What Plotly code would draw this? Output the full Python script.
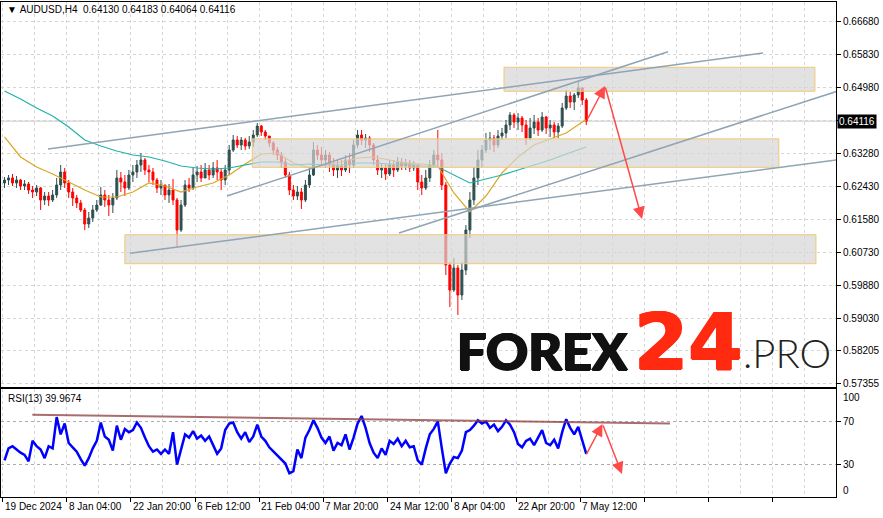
import plotly.graph_objects as go

# ---------------- data ----------------
BARS_PER_CANDLE = 4          # each candle below summarises 4 H4 bars
first_open = 0.62521
closes = [
    0.62598, 0.62650, 0.62521, 0.62598, 0.62443, 0.62495, 0.62340, 0.62288, 0.62392, 0.62082,
    0.62185, 0.62082, 0.62211, 0.62469, 0.62804, 0.62521, 0.62288, 0.62134, 0.62005, 0.61824,
    0.61463, 0.61618, 0.61824, 0.61953, 0.62211, 0.62082, 0.61953, 0.62134, 0.62650, 0.62546,
    0.62392, 0.62727, 0.62804, 0.62985, 0.63114, 0.62856, 0.62804, 0.62598, 0.62392, 0.62469,
    0.62211, 0.62340, 0.62082, 0.61308, 0.61953, 0.62469, 0.62392, 0.62727, 0.62804, 0.62650,
    0.62856, 0.62727, 0.62908, 0.62804, 0.62598, 0.62856, 0.63371, 0.63629, 0.63500, 0.63629,
    0.63475, 0.63578, 0.63758, 0.63990, 0.63836, 0.63732, 0.63552, 0.63371, 0.63242, 0.63062,
    0.62727, 0.62340, 0.62185, 0.62288, 0.62082, 0.62469, 0.62727, 0.63371, 0.63242, 0.63114,
    0.63242, 0.62985, 0.62856, 0.62959, 0.62856, 0.63114, 0.62985, 0.63500, 0.63758, 0.63629,
    0.63681, 0.63500, 0.63114, 0.62856, 0.62908, 0.62753, 0.62985, 0.62856, 0.63062, 0.62959,
    0.63036, 0.62908, 0.62985, 0.62546, 0.62392, 0.62650, 0.62985, 0.63242, 0.63114, 0.62469,
    0.60406, 0.59761, 0.60329, 0.59632, 0.60277, 0.61308, 0.62082, 0.62650, 0.63114, 0.63371,
    0.63629, 0.63681, 0.63500, 0.63732, 0.63810, 0.64016, 0.64274, 0.64093, 0.64197, 0.64016,
    0.63681, 0.63939, 0.64093, 0.63887, 0.64222, 0.63939, 0.64016, 0.63836, 0.63990, 0.64454,
    0.64764, 0.64609, 0.64790, 0.64970, 0.64661, 0.64116,
]
highs = [
    0.62675, 0.62727, 0.62753, 0.62701, 0.62624, 0.62598, 0.62546, 0.62443, 0.62469, 0.62418,
    0.62288, 0.62288, 0.62340, 0.62650, 0.62985, 0.62908, 0.62598, 0.62392, 0.62211, 0.62082,
    0.61876, 0.61773, 0.61953, 0.62082, 0.62418, 0.62340, 0.62211, 0.62263, 0.62856, 0.62804,
    0.62727, 0.62856, 0.62985, 0.63114, 0.63294, 0.63165, 0.62985, 0.62908, 0.62650, 0.62598,
    0.62469, 0.62495, 0.62624, 0.62134, 0.62082, 0.62598, 0.62650, 0.62933, 0.62959, 0.62985,
    0.63036, 0.62985, 0.63062, 0.63114, 0.62908, 0.62985, 0.63500, 0.63758, 0.63732, 0.63707,
    0.63681, 0.63732, 0.63887, 0.64068, 0.64016, 0.63887, 0.63732, 0.63604, 0.63449, 0.63320,
    0.63165, 0.62804, 0.62469, 0.62443, 0.62392, 0.62598, 0.62933, 0.63578, 0.63500, 0.63449,
    0.63371, 0.63320, 0.63165, 0.63114, 0.63114, 0.63242, 0.63294, 0.63629, 0.63887, 0.63887,
    0.63784, 0.63732, 0.63552, 0.63242, 0.63036, 0.63011, 0.63114, 0.63114, 0.63191, 0.63165,
    0.63140, 0.63114, 0.63088, 0.62985, 0.62727, 0.62856, 0.63114, 0.63371, 0.63887, 0.63294,
    0.62546, 0.60483, 0.60587, 0.60406, 0.60483, 0.61437, 0.62288, 0.62933, 0.63371, 0.63500,
    0.63810, 0.63836, 0.63758, 0.63887, 0.63939, 0.64145, 0.64351, 0.64326, 0.64326, 0.64248,
    0.64145, 0.64197, 0.64274, 0.64197, 0.64351, 0.64248, 0.64145, 0.64093, 0.64068, 0.64584,
    0.64919, 0.64867, 0.64841, 0.65125, 0.64996, 0.64713,
]
lows = [
    0.62392, 0.62469, 0.62443, 0.62392, 0.62340, 0.62340, 0.62237, 0.62134, 0.62185, 0.61824,
    0.61953, 0.61927, 0.62030, 0.62134, 0.62340, 0.62392, 0.62134, 0.61927, 0.61876, 0.61773,
    0.61308, 0.61360, 0.61515, 0.61773, 0.61927, 0.61902, 0.61670, 0.61747, 0.62082, 0.62288,
    0.62185, 0.62340, 0.62546, 0.62650, 0.62804, 0.62727, 0.62546, 0.62469, 0.62263, 0.62211,
    0.62082, 0.62005, 0.61953, 0.60870, 0.61257, 0.61902, 0.62288, 0.62340, 0.62546, 0.62546,
    0.62650, 0.62598, 0.62650, 0.62598, 0.62340, 0.62469, 0.62727, 0.63320, 0.63423, 0.63371,
    0.63371, 0.63397, 0.63449, 0.63707, 0.63732, 0.63629, 0.63449, 0.63242, 0.63114, 0.62908,
    0.62650, 0.62211, 0.62082, 0.62082, 0.61850, 0.62030, 0.62392, 0.62701, 0.63114, 0.62985,
    0.62908, 0.62804, 0.62701, 0.62650, 0.62701, 0.62804, 0.62779, 0.62908, 0.63423, 0.63500,
    0.63423, 0.63320, 0.62985, 0.62727, 0.62650, 0.62598, 0.62701, 0.62675, 0.62804, 0.62856,
    0.62856, 0.62804, 0.62830, 0.62340, 0.62211, 0.62340, 0.62546, 0.62908, 0.62908, 0.62340,
    0.60148, 0.59322, 0.59710, 0.59116, 0.59503, 0.60148, 0.61102, 0.61953, 0.62469, 0.62933,
    0.63294, 0.63371, 0.63320, 0.63423, 0.63629, 0.63681, 0.63887, 0.63939, 0.63887, 0.63836,
    0.63500, 0.63629, 0.63784, 0.63732, 0.63836, 0.63784, 0.63707, 0.63681, 0.63681, 0.63939,
    0.64403, 0.64454, 0.64403, 0.64713, 0.64532, 0.64016,
]
rsi = [
    34, 45, 47, 44, 41, 39, 33, 52, 47, 44,
    36, 47, 45, 74, 58, 68, 50, 46, 42, 35,
    29, 36, 45, 52, 69, 56, 53, 43, 66, 53,
    63, 60, 62, 69, 64, 55, 47, 42, 44, 40,
    44, 40, 60, 30, 45, 58, 55, 61, 54, 57,
    52, 56, 48, 40, 45, 62, 68, 69, 60, 54,
    60, 51, 56, 67, 56, 52, 46, 42, 38, 35,
    31, 22, 24, 44, 36, 55, 62, 71, 64, 55,
    50, 56, 43, 50, 48, 58, 44, 55, 68, 75,
    64, 50, 41, 36, 45, 39, 52, 49, 54, 47,
    52, 46, 47, 34, 30, 45, 58, 63, 70, 45,
    22, 31, 37, 36, 43, 60, 62, 66, 71, 68,
    70, 64, 67, 61, 65, 71, 67, 60, 49, 46,
    52, 54, 48, 55, 62, 50, 48, 53, 45, 60,
    72, 64, 58, 65, 53, 39.9674,
]
# moving averages sampled at every 4th candle (plus the last one)
ma_idx = list(range(0, 145, 4)) + [145]
ma_fast = [
    0.63707, 0.63191, 0.62933, 0.62753, 0.62546, 0.62340, 0.62159, 0.62159, 0.62288, 0.62521,
    0.62443, 0.62288, 0.62418, 0.62521, 0.62727, 0.63011, 0.63268, 0.63294, 0.63036, 0.62908,
    0.62985, 0.63062, 0.63165, 0.63191, 0.63114, 0.63036, 0.63011, 0.62959, 0.62263, 0.61773,
    0.62185, 0.62779, 0.63191, 0.63500, 0.63655, 0.63810, 0.64093, 0.64145,
]
ma_slow = [
    0.64893, 0.64687, 0.64455, 0.64248, 0.63964, 0.63629, 0.63475, 0.63346, 0.63242, 0.63191,
    0.63088, 0.62959, 0.62908, 0.62882, 0.62908, 0.62985, 0.63062, 0.63062, 0.62985, 0.63011,
    0.62985, 0.62985, 0.63036, 0.63036, 0.63011, 0.63011, 0.62959, 0.62933, 0.62727, 0.62521,
    0.62624, 0.62727, 0.62856, 0.62985, 0.63114, 0.63268, 0.63423, 0.63449,
]
price_ticks = [0.66680, 0.65830, 0.64980, 0.64130, 0.63280, 0.62430, 0.61580,
               0.60730, 0.59880, 0.59030, 0.58205, 0.57355]
price_labels = ["0.66680", "0.65830", "0.64980", "", "0.63280", "0.62430", "0.61580",
                "0.60730", "0.59880", "0.59030", "0.58205", "0.57355"]
time_labels = ["19 Dec 2024", "8 Jan 04:00", "22 Jan 20:00", "6 Feb 12:00", "21 Feb 04:00",
               "7 Mar 20:00", "24 Mar 12:00", "8 Apr 04:00", "22 Apr 20:00", "7 May 12:00"]
BARS_PER_LABEL = 64
last_price = 0.64116
header = "▼\u00a0AUDUSD,H4\u00a0\u00a00.64130\u00a00.64183\u00a00.64064\u00a00.64116"
rsi_title = "RSI(13) 39.9674"

# drawn objects (bar index / price)
zone_x0 = [500, 249, 122]
zone_x1 = [810, 774, 811]
zone_lo = [0.64887, 0.62925, 0.60439]
zone_hi = [0.65505, 0.63659, 0.61186]
trend_x0 = [45.4, 223.8, 127.1, 395.3]
trend_x1 = [758.2, 663.5, 841.0, 836.0]
trend_p0 = [0.63397, 0.62185, 0.60708, 0.61231]
trend_p1 = [0.65873, 0.65904, 0.63147, 0.64919]
arrow_px = [582.8, 600.7, 637.6]
arrow_pp = [0.64145, 0.65022, 0.61592]
arrow_rx = [581.3, 598.2, 617.6]
arrow_rv = [38, 67.6, 21.3]
rsi_trend_x = [29.7, 665.5]
rsi_trend_v = [76.2, 68.1]

# ---------------- figure ----------------
n = len(closes)
opens = [first_open] + closes[:-1]
xc = [BARS_PER_CANDLE * i + BARS_PER_CANDLE / 2 for i in range(n)]
xma = [BARS_PER_CANDLE * i + BARS_PER_CANDLE / 2 for i in ma_idx]

BULL, BEAR = "#2F4F4F", "#FF0000"
GRID = "#d6d6d6"
FONT = "Liberation Sans, Arial, sans-serif"
FS = 10

fig = go.Figure()
fig.add_trace(go.Candlestick(
    x=xc, open=opens, high=highs, low=lows, close=closes,
    increasing=dict(line=dict(color=BULL, width=1), fillcolor=BULL),
    decreasing=dict(line=dict(color=BEAR, width=1), fillcolor=BEAR),
    whiskerwidth=0, showlegend=False, hoverinfo="skip", xaxis="x", yaxis="y"))
fig.add_trace(go.Scatter(x=xma, y=ma_fast, mode="lines", line=dict(color="#DAA520", width=1.2),
                         showlegend=False, hoverinfo="skip", xaxis="x", yaxis="y"))
fig.add_trace(go.Scatter(x=xma, y=ma_slow, mode="lines", line=dict(color="#20B2AA", width=1.2),
                         showlegend=False, hoverinfo="skip", xaxis="x", yaxis="y"))
fig.add_trace(go.Scatter(x=xc, y=rsi, mode="lines", line=dict(color="#0000FF", width=2.5),
                         showlegend=False, hoverinfo="skip", xaxis="x2", yaxis="y2"))
fig.add_trace(go.Scatter(x=rsi_trend_x, y=rsi_trend_v, mode="lines",
                         line=dict(color="rgba(140,60,60,0.75)", width=2),
                         showlegend=False, hoverinfo="skip", xaxis="x2", yaxis="y2"))

shapes = []
# bid line
shapes.append(dict(type="line", xref="x", yref="y", x0=-10, x1=900, y0=last_price, y1=last_price,
                   line=dict(color="#c8c8c8", width=1), layer="below"))
for a, b, lo, hi in zip(zone_x0, zone_x1, zone_lo, zone_hi):
    shapes.append(dict(type="rect", xref="x", yref="y", x0=a, x1=b, y0=lo, y1=hi,
                       fillcolor="rgba(214,214,214,0.7)", line=dict(color="#F2C775", width=1),
                       layer="above"))
for a, b, p0, p1 in zip(trend_x0, trend_x1, trend_p0, trend_p1):
    shapes.append(dict(type="line", xref="x", yref="y", x0=a, x1=b, y0=p0, y1=p1,
                       line=dict(color="#8FA4B4", width=1.5), layer="above"))

ann = []
ann.append(dict(text=header, xref="paper", yref="paper", x=0.005, y=0.984, xanchor="left",
                yanchor="middle", showarrow=False, font=dict(family=FONT, size=FS, color="black")))
ann.append(dict(text=rsi_title, xref="paper", yref="paper", x=0.006, y=0.2, xanchor="left",
                yanchor="middle", showarrow=False, font=dict(family=FONT, size=FS, color="black")))
for k, t in enumerate(time_labels):
    ann.append(dict(text=t, xref="x2", yref="paper", x=k * BARS_PER_LABEL, y=-0.019,
                    xanchor="left", yanchor="middle", xshift=0, showarrow=False,
                    font=dict(family=FONT, size=FS, color="black")))
ann.append(dict(text="100", xref="paper", yref="paper", x=1.006, y=0.202, xanchor="left",
                yanchor="middle", showarrow=False, font=dict(family=FONT, size=FS, color="black")))
ann.append(dict(text="0", xref="paper", yref="paper", x=1.006, y=0.0141, xanchor="left",
                yanchor="middle", showarrow=False, font=dict(family=FONT, size=FS, color="black")))
ann.append(dict(text=f"{last_price:.5f}", xref="paper", yref="y", x=1.0015, y=last_price,
                xanchor="left", yanchor="middle", showarrow=False, bgcolor="black",
                borderpad=1, font=dict(family=FONT, size=FS, color="white")))
# logo
thick_dark = "1px 0px 0px #111111, -1px 0px 0px #111111, 0px 1px 0px #111111"
thick_red = "1px 0px 0px #FF2A10, -1px 0px 0px #FF2A10, 0px 1px 0px #FF2A10"
ann.append(dict(text="FOREX", xref="paper", yref="paper", x=0.5435, y=0.296, xanchor="left",
                yanchor="middle", showarrow=False,
                font=dict(family="Lato, sans-serif", size=52, color="#111111", weight=900,
                          shadow=thick_dark)))
ann.append(dict(text="24", xref="paper", yref="paper", x=0.7557, y=0.313, xanchor="left",
                yanchor="middle", showarrow=False,
                font=dict(family="DejaVu Sans, sans-serif", size=78, color="#FF2A10", weight=700,
                          shadow=thick_red)))
ann.append(dict(text=".PRO", xref="paper", yref="paper", x=0.886, y=0.2915, xanchor="left",
                yanchor="middle", showarrow=False,
                font=dict(family="Lato, sans-serif", size=40, color="#222222", weight=300)))
# arrows
for (xs, ys, xr, yr) in [(arrow_px, arrow_pp, "x", "y"), (arrow_rx, arrow_rv, "x2", "y2")]:
    for j in range(2):
        ann.append(dict(text="", x=xs[j + 1], y=ys[j + 1], ax=xs[j], ay=ys[j], xref=xr, yref=yr,
                        axref=xr, ayref=yr, showarrow=True, arrowhead=2, arrowsize=1.6,
                        arrowwidth=1.5, arrowcolor="#FF4A4A"))

axis_x = dict(range=[-1.5, 831], showticklabels=False, tickmode="linear", tick0=0,
              dtick=BARS_PER_LABEL, showgrid=True, gridcolor=GRID, griddash="3px,3px",
              minor=dict(tick0=0, dtick=BARS_PER_LABEL / 2, showgrid=True, gridcolor=GRID,
                         griddash="3px,3px"),
              showline=True, mirror=True, linecolor="black", linewidth=1, zeroline=False,
              fixedrange=True)
fig.update_layout(
    width=883, height=518, margin=dict(l=1, r=47, t=2, b=21),
    paper_bgcolor="white", plot_bgcolor="white", showlegend=False,
    xaxis=dict(axis_x, anchor="y", domain=[0, 1], ticks="", rangeslider=dict(visible=False)),
    xaxis2=dict(axis_x, anchor="y2", domain=[0, 1], matches="x", ticks="outside", ticklen=4,
                tickcolor="black"),
    yaxis=dict(domain=[0.2232, 1], range=[0.572725, 0.67188], side="right", tickmode="array",
               tickvals=price_ticks, ticktext=price_labels, ticks="outside", ticklen=4,
               tickcolor="black", showgrid=True, gridcolor=GRID, griddash="3px,3px",
               showline=True, mirror=True, linecolor="black", linewidth=1, zeroline=False,
               tickfont=dict(family=FONT, size=FS, color="black"), anchor="x"),
    yaxis2=dict(domain=[0, 0.2182], range=[0, 100], side="right", tickmode="array",
                tickvals=[30, 70], ticktext=["30", "70"], ticks="outside", ticklen=4,
                tickcolor="black", showgrid=True, gridcolor="#ababab", griddash="3px,3px",
                showline=True, mirror=True, linecolor="black", linewidth=1, zeroline=False,
                tickfont=dict(family=FONT, size=FS, color="black"), anchor="x2"),
    shapes=shapes, annotations=ann,
)
fig.write_html("out.html", config={"displayModeBar": False},
               post_script="document.body.style.margin='0px';document.body.style.padding='0px';")
